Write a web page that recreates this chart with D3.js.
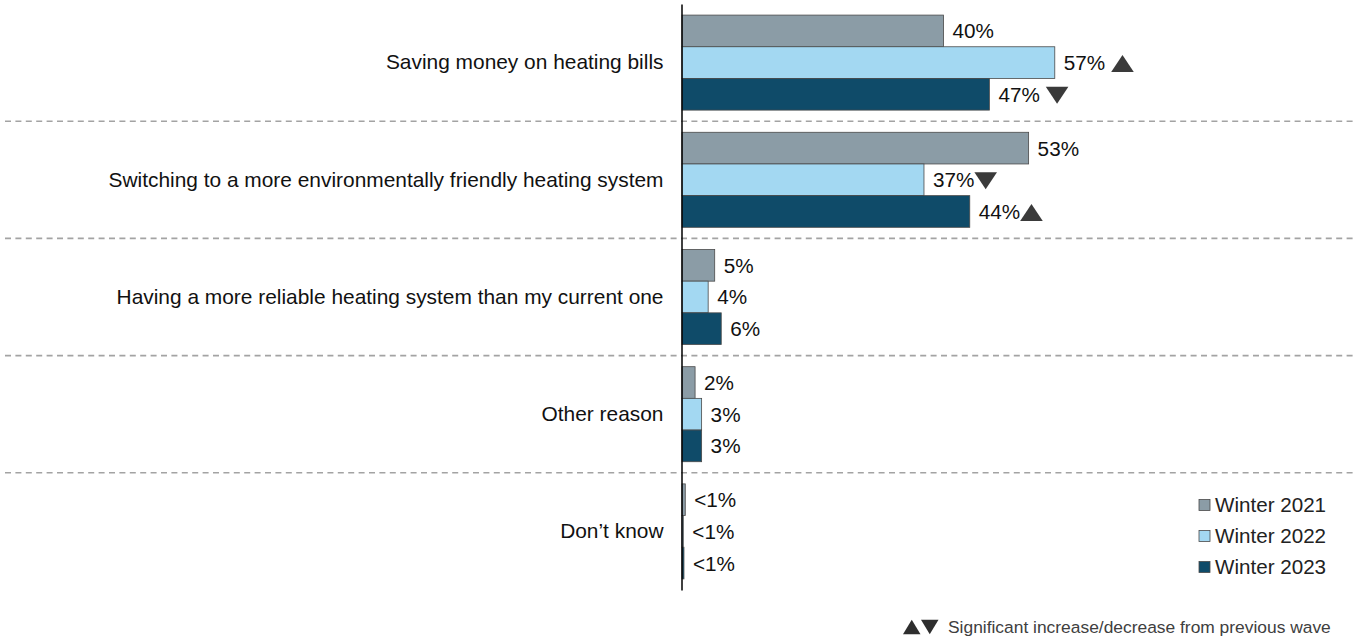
<!DOCTYPE html>
<html>
<head>
<meta charset="utf-8">
<script src="https://cdn.jsdelivr.net/npm/d3@7"></script>
<style>
  html, body { margin: 0; padding: 0; background: #fff; }
  svg { display: block; font-family: "Liberation Sans", Arial, sans-serif; }
</style>
</head>
<body>
<svg id="chart" width="1354" height="638"></svg>
<script>
// Reasons for considering a new heating system, by survey wave (%)
const categories = [
  "Saving money on heating bills",
  "Switching to a more environmentally friendly heating system",
  "Having a more reliable heating system than my current one",
  "Other reason",
  "Don\u2019t know"
];
const seriesNames = ["Winter 2021", "Winter 2022", "Winter 2023"];
const winter2021 = [40, 53, 5, 2, 0.5];
const winter2022 = [57, 37, 4, 3, 0.2];
const winter2023 = [47, 44, 6, 3, 0.3];
// Significance vs previous wave: leading space = marker typed after a space
const sig2021 = ["", "", "", "", ""];
const sig2022 = [" \u25B2", "\u25BC", "", "", ""];
const sig2023 = [" \u25BC", "\u25B2", "", "", ""];
const colors = ["#8b9ca6", "#a3d8f2", "#0f4b69"];
const footnote = "Significant increase/decrease from previous wave";

const seriesValues = [winter2021, winter2022, winter2023];
const seriesSig = [sig2021, sig2022, sig2023];

const svg = d3.select("#chart");
const axisX = 682;

const x = d3.scaleLinear().domain([0, 100]).range([axisX, axisX + 654]);
const y = d3.scaleBand().domain(categories).range([4, 590]);
const ySub = d3.scaleBand().domain(seriesNames).range([0, y.bandwidth()]).paddingOuter(0.35);

// Dashed separators between categories
svg.append("g").selectAll("line")
  .data(categories.slice(1))
  .join("line")
  .attr("x1", 5).attr("x2", 1354)
  .attr("y1", d => y(d)).attr("y2", d => y(d))
  .attr("stroke", "#a3a3a3")
  .attr("stroke-width", 1.6)
  .attr("stroke-dasharray", "6,4.4");

const rows = [];
categories.forEach((c, i) => {
  seriesNames.forEach((s, j) => {
    rows.push({ cat: c, series: s, si: j, value: seriesValues[j][i], sig: seriesSig[j][i] });
  });
});

const fmt = v => v < 1 ? "<1%" : d3.format("d")(v) + "%";

// Bars
svg.append("g").selectAll("rect")
  .data(rows)
  .join("rect")
  .attr("x", x(0))
  .attr("y", d => y(d.cat) + ySub(d.series))
  .attr("width", d => x(d.value) - x(0))
  .attr("height", ySub.bandwidth())
  .attr("fill", d => colors[d.si])
  .attr("stroke", "#4a4a4a")
  .attr("stroke-width", 0.8);

// Value labels with significance markers
const labels = svg.append("g").selectAll("g")
  .data(rows)
  .join("g")
  .attr("transform", d => `translate(${x(d.value) + 9},${y(d.cat) + ySub(d.series) + ySub.bandwidth() / 2})`);

labels.append("text")
  .attr("dy", "0.36em")
  .attr("font-size", 20.7)
  .attr("fill", "#111")
  .text(d => fmt(d.value));

const triW = 22.6, triH = 17;
labels.each(function (d) {
  if (!d.sig) return;
  const g = d3.select(this);
  const tw = g.select("text").node().getComputedTextLength();
  const gap = d.sig.startsWith(" ") ? 6 : 0;
  const up = d.sig.trim() === "\u25B2";
  const x0 = tw + gap;
  const pts = up
    ? [[x0, triH / 2], [x0 + triW / 2, -triH / 2], [x0 + triW, triH / 2]]
    : [[x0, -triH / 2], [x0 + triW, -triH / 2], [x0 + triW / 2, triH / 2]];
  g.append("path")
    .attr("d", d3.line()(pts) + "Z")
    .attr("transform", "translate(0,1)")
    .attr("fill", "#3a3a3a");
});

// Category axis
const axis = svg.append("g")
  .attr("transform", `translate(${axisX - 0.5},0)`)
  .call(d3.axisLeft(y).tickSize(0).tickSizeOuter(0).tickPadding(18));
axis.select(".domain").attr("stroke", "#000").attr("stroke-width", 1.5);
axis.selectAll("text")
  .attr("font-size", 20.9)
  .attr("fill", "#111")
  .attr("font-family", "\"Liberation Sans\", Arial, sans-serif");

// Legend
const legend = svg.append("g").attr("transform", "translate(1199,505)");
const li = legend.selectAll("g")
  .data(seriesNames)
  .join("g")
  .attr("transform", (d, i) => `translate(0,${i * 31})`);
li.append("rect")
  .attr("x", 0).attr("y", -5.5)
  .attr("width", 11).attr("height", 11)
  .attr("fill", (d, i) => colors[i])
  .attr("stroke", "#4a4a4a")
  .attr("stroke-width", 0.8);
li.append("text")
  .attr("x", 16)
  .attr("dy", "0.36em")
  .attr("font-size", 20.6)
  .attr("fill", "#222")
  .text(d => d);

// Footnote
const foot = svg.append("g").attr("transform", "translate(903,627)");
const fw = 17.5, fh = 14.5;
foot.append("path")
  .attr("d", d3.line()([[0, fh / 2], [fw / 2, -fh / 2], [fw, fh / 2]]) + "Z")
  .attr("fill", "#2e2e2e");
foot.append("path")
  .attr("d", d3.line()([[fw + 0.5, -fh / 2], [2 * fw + 0.5, -fh / 2], [1.5 * fw + 0.5, fh / 2]]) + "Z")
  .attr("fill", "#2e2e2e");
foot.append("text")
  .attr("x", 45)
  .attr("dy", "0.36em")
  .attr("font-size", 17.4)
  .attr("fill", "#404040")
  .text(footnote);
</script>
</body>
</html>
